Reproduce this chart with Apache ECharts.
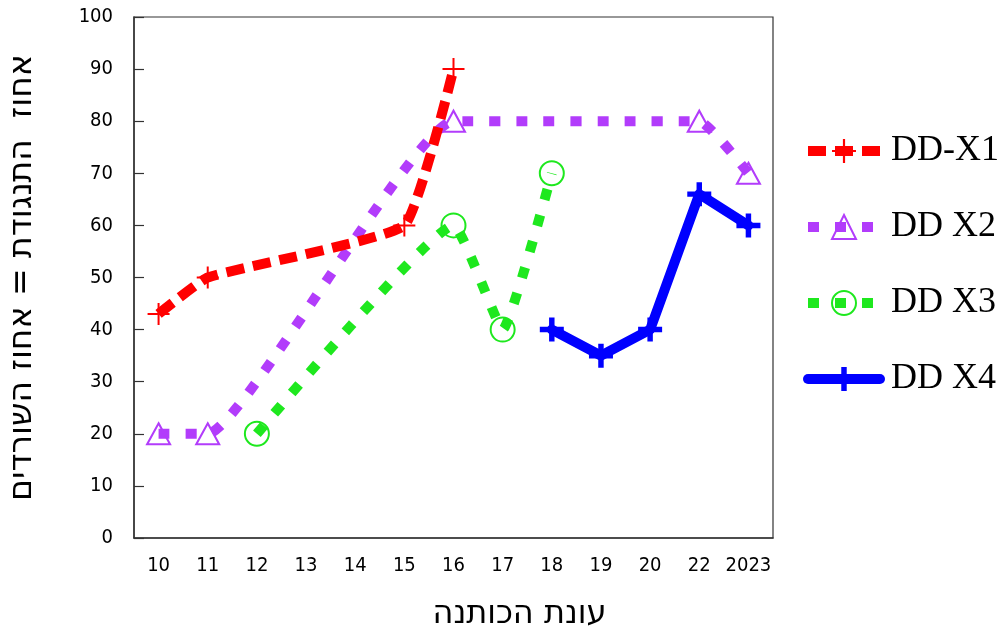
<!DOCTYPE html>
<html>
<head>
<meta charset="utf-8">
<script src="https://cdn.jsdelivr.net/npm/echarts@6/dist/echarts.min.js"></script>
<style>
html,body{margin:0;padding:0;background:#fff;}
#chart{width:1003px;height:628px;}
</style>
</head>
<body>
<div id="chart"></div>
<script>
const categories = ['10','11','12','13','14','15','16','17','18','19','20','22','2023'];
const seriesNames = ['DD-X1','DD X2','DD X3','DD X4'];
const ddX1 = [43, 50, null, null, null, 60, 90, null, null, null, null, null, null];
const ddX2 = [20, 20, null, null, null, null, 80, null, null, null, null, 80, 70];
const ddX3 = [null, null, 20, null, null, null, 60, 40, 70, null, null, null, null];
const ddX4 = [null, null, null, null, null, null, null, null, 40, 35, 40, 66, 60];
const yTicks = {min: 0, max: 100, interval: 10};
const yAxisTitle = 'אחוז  התנגודת = אחוז השורדים';
const xAxisTitle = 'עונת הכותנה';

const thinPlus = 'path://M-1,-11 L1,-11 L1,-1 L11,-1 L11,1 L1,1 L1,11 L-1,11 L-1,1 L-11,1 L-11,-1 L-1,-1 Z';
const thickPlus = 'path://M-2.5,-11 L2.5,-11 L2.5,-2.5 L11,-2.5 L11,2.5 L2.5,2.5 L2.5,11 L-2.5,11 L-2.5,2.5 L-11,2.5 L-11,-2.5 L-2.5,-2.5 Z';

const chart = echarts.init(document.getElementById('chart'), null, {renderer: 'canvas'});
const numFont = 'DejaVu Sans Condensed, DejaVu Sans, sans-serif';
const hebFont = 'DejaVu Sans, sans-serif';

chart.setOption({
  animation: false,
  backgroundColor: '#ffffff',
  grid: {left: 134, right: 230, top: 17, bottom: 90, containLabel: false, outerBoundsMode: 'none',
         show: true, borderColor: '#333', borderWidth: 1.2, backgroundColor: 'transparent'},
  legend: {
    orient: 'vertical',
    left: 798,
    top: 128,
    itemWidth: 72,
    itemHeight: 30,
    itemGap: 40,
    lineStyle: {width: 10},
    textStyle: {fontFamily: 'Liberation Serif, serif', fontSize: 36, color: '#000', padding: [0, 0, 0, 6]},
    data: seriesNames
  },
  xAxis: {
    type: 'category',
    data: categories,
    boundaryGap: true,
    name: xAxisTitle,
    nameLocation: 'middle',
    nameGap: 61,
    nameTextStyle: {fontFamily: hebFont, fontSize: 32, color: '#000', padding: [0, 0, 0, 132]},
    axisLine: {lineStyle: {color: '#333', width: 1.5}},
    axisTick: {alignWithLabel: true, inside: true, length: 10, lineStyle: {color: '#333', width: 1.2}},
    axisLabel: {interval: 0, fontFamily: numFont, fontSize: 20, color: '#000', margin: 18},
    splitLine: {show: false}
  },
  yAxis: {
    type: 'value',
    min: yTicks.min,
    max: yTicks.max,
    interval: yTicks.interval,
    name: yAxisTitle,
    nameLocation: 'middle',
    nameGap: 95,
    nameRotate: 90,
    nameTextStyle: {fontFamily: hebFont, fontSize: 33, color: '#000'},
    axisLine: {show: true, lineStyle: {color: '#333', width: 1.5}},
    axisTick: {show: true, inside: true, length: 10, lineStyle: {color: '#333', width: 1.2}},
    axisLabel: {fontFamily: numFont, fontSize: 20, color: '#000', margin: 21},
    splitLine: {show: false}
  },
  series: [
    {
      name: seriesNames[0], type: 'line', data: ddX1, connectNulls: true, smooth: 0.12,
      symbol: thinPlus, symbolSize: 22,
      itemStyle: {color: '#ff0000'},
      lineStyle: {color: '#ff0000', width: 10, type: [18, 9], cap: 'butt'},
      z: 4
    },
    {
      name: seriesNames[1], type: 'line', data: ddX2, connectNulls: true, smooth: 0.12,
      symbol: 'triangle', symbolSize: [23, 21],
      itemStyle: {color: 'rgba(0,0,0,0)', borderColor: '#b23cfb', borderWidth: 2},
      lineStyle: {color: '#b23cfb', width: 10, type: [11, 16], cap: 'butt'},
      z: 3
    },
    {
      name: seriesNames[2], type: 'line', data: ddX3, connectNulls: true, smooth: 0.12,
      symbol: 'circle', symbolSize: 24,
      itemStyle: {color: 'rgba(0,0,0,0)', borderColor: '#1ee81e', borderWidth: 2},
      lineStyle: {color: '#1ee81e', width: 10, type: [11, 16], cap: 'butt'},
      z: 3
    },
    {
      name: seriesNames[3], type: 'line', data: ddX4, connectNulls: true, smooth: false,
      symbol: thickPlus, symbolSize: 24,
      itemStyle: {color: '#0000ff'},
      lineStyle: {color: '#0000ff', width: 10, type: 'solid', cap: 'round', join: 'round'},
      z: 5
    }
  ]
});
</script>
</body>
</html>
